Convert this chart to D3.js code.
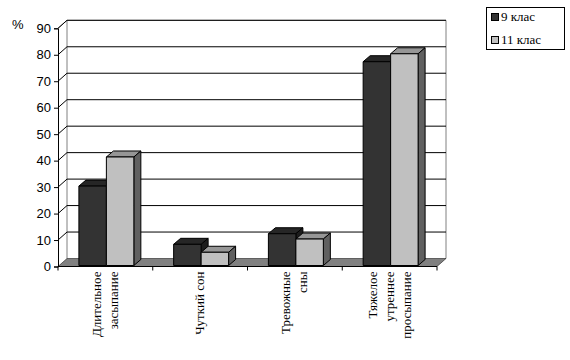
<!DOCTYPE html>
<html><head><meta charset="utf-8">
<script src="https://cdn.jsdelivr.net/npm/d3@7"></script>
<style>body{margin:0;background:#fff}svg{display:block}</style>
</head><body>
<svg id="c" width="570" height="360"></svg>
<script>
const categories = [["Длительное","засыпание"],["Чуткий сон"],["Тревожные","сны"],["Тяжелое","утреннее","просыпание"]];
const seriesNames = ["9 клас","11 клас"];
const grade9 = [30, 8, 12, 77];
const grade11 = [41, 5, 10, 80];
const yTicks = [0,10,20,30,40,50,60,70,80,90];
const colors = {front:["#333333","#c0c0c0"], top:["#262626","#969696"], side:["#1c1c1c","#606060"]};
const SERIF = "'Liberation Serif', serif";
const SANS = "'Liberation Sans', sans-serif";

const svg = d3.select("#c");
const X0 = 58, X1 = 437, DX = 9, DY = -8;
const x = d3.scaleBand().domain(d3.range(categories.length)).range([X0, X1]);
const y = d3.scaleLinear().domain([0, 90]).range([266.5, 28.3]);

svg.append("path")
  .attr("d", `M${X0+DX},${y(0)+DY}V${y(90)+DY}H${X1+DX}V${y(0)+DY}`)
  .attr("fill","none").attr("stroke","#808080");
svg.append("line").attr("x1",X0).attr("y1",y(90)).attr("x2",X0+DX).attr("y2",y(90)+DY).attr("stroke","#808080");
yTicks.filter(t=>t>0).forEach(t=>{
  svg.append("path").attr("d",`M${X0},${y(t)}L${X0+DX},${y(t)+DY}H${X1+DX}`)
    .attr("fill","none").attr("stroke","#000").attr("stroke-width",1);
});
svg.append("path").attr("d",`M${X0},${y(0)}H${X1}L${X1+DX},${y(0)+DY}H${X0+DX}Z`)
  .attr("fill","#808080").attr("stroke","#000").attr("stroke-width",0.5);

const bw = x.bandwidth()*0.29, bdx = 7, bdy = -6, off = 1;
const series = [grade9, grade11];
categories.forEach((c,i)=>{
  series.forEach((vals,s)=>{
    const v = vals[i];
    const xl = x(i) + x.bandwidth()/2 - bw + s*bw + off;
    const yt = y(v) - off, yb = y(0) - off;
    const g = svg.append("g").attr("stroke","#000").attr("stroke-width",1).attr("stroke-linejoin","round");
    g.append("path").attr("d",`M${xl},${yt}L${xl+bdx},${yt+bdy}H${xl+bw+bdx}L${xl+bw},${yt}Z`).attr("fill",colors.top[s]);
    g.append("path").attr("d",`M${xl+bw},${yt}L${xl+bw+bdx},${yt+bdy}V${yb+bdy}L${xl+bw},${yb}Z`).attr("fill",colors.side[s]);
    g.append("rect").attr("x",xl).attr("y",yt).attr("width",bw).attr("height",yb-yt).attr("fill",colors.front[s]);
  });
});

const ya = svg.append("g").attr("transform",`translate(${X0},0)`)
  .call(d3.axisLeft(y).tickValues(yTicks).tickSize(4).tickPadding(3));
ya.selectAll("path,line").attr("stroke","#000");
ya.selectAll("text").style("font-family",SANS).style("font-size","13px").attr("fill","#000");
svg.append("text").attr("x",12).attr("y",29).style("font-family",SANS).style("font-size","13px").text("%");

const xa = svg.append("g").attr("transform",`translate(0,${y(0)})`);
xa.append("line").attr("x1",X0).attr("x2",X1).attr("stroke","#000");
d3.range(categories.length+1).forEach(k=>{
  const xx = X0 + k*x.step();
  xa.append("line").attr("x1",xx).attr("x2",xx).attr("y1",0).attr("y2",4).attr("stroke","#000");
});
categories.forEach((lines,i)=>{
  const cx = x(i)+x.bandwidth()/2;
  const n = lines.length, sp = 17;
  lines.forEach((ln,j)=>{
    const lx = cx + (j-(n-1)/2)*sp + 4;
    svg.append("text").attr("transform",`translate(${lx},${y(0)+5}) rotate(-90)`)
      .attr("text-anchor","end").style("font-family",SERIF).style("font-size","13px").text(ln);
  });
});

const lg = svg.append("g");
lg.append("rect").attr("x",486.5).attr("y",7.5).attr("width",78).attr("height",42).attr("fill","#fff").attr("stroke","#000");
seriesNames.forEach((n,s)=>{
  const yy = 13 + s*23;
  lg.append("rect").attr("x",491.5).attr("y",yy+0.5).attr("width",7).attr("height",7).attr("fill",colors.front[s]).attr("stroke","#000");
  lg.append("text").attr("x",501).attr("y",yy+8).style("font-family",SERIF).style("font-size","13px").text(n);
});
</script>
</body></html>
